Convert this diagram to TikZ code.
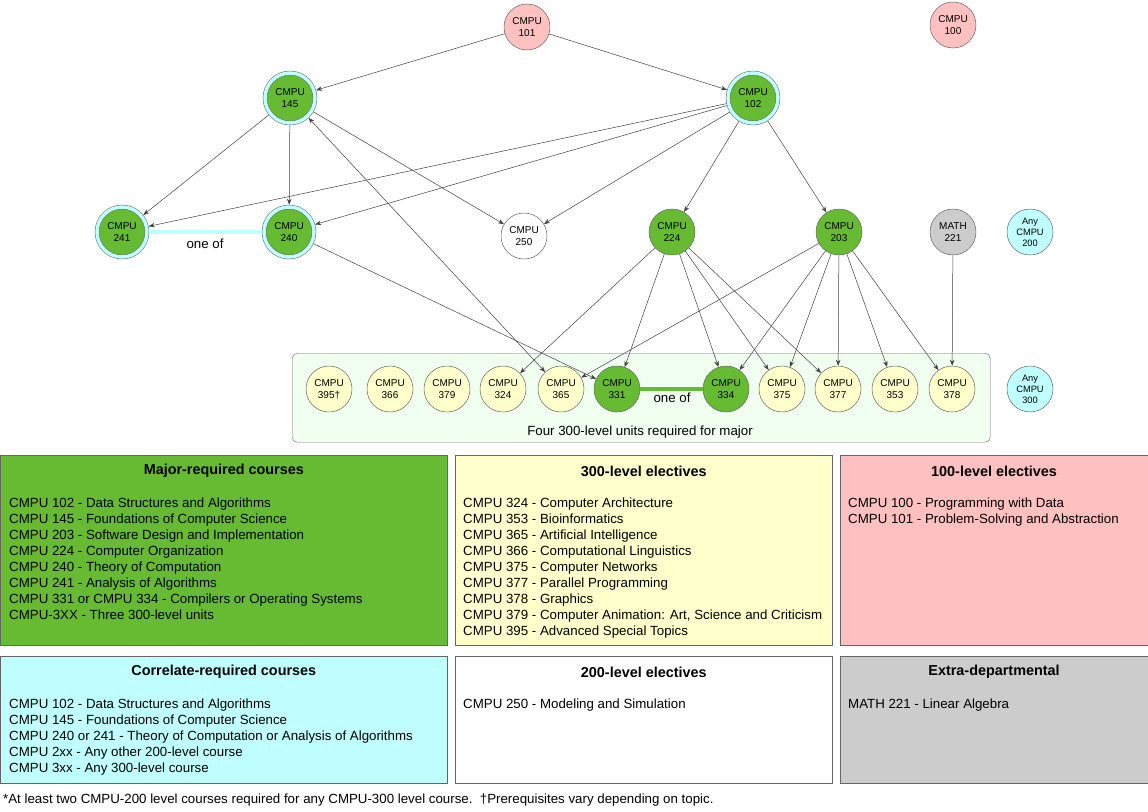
\documentclass[tikz,border=0pt]{standalone}
\usepackage{fontspec}
\setmainfont{Liberation Sans}
\usetikzlibrary{arrows.meta}

\definecolor{majorgreen}{RGB}{102,187,51}
\definecolor{ringcyan}{RGB}{191,255,255}
\definecolor{lowpink}{RGB}{255,192,192}
\definecolor{electyellow}{RGB}{255,255,204}
\definecolor{extragrey}{RGB}{204,204,204}
\definecolor{groupfill}{RGB}{240,255,240}
\definecolor{edgegrey}{RGB}{64,64,64}

\begin{document}
\begin{tikzpicture}[
    x=1pt, y=-1pt,
    >={Stealth[length=6pt,width=4.5pt]},
    course/.style={circle, draw=black!60, line width=0.5pt, minimum size=46pt, inner sep=0pt, align=center, font=\fontsize{10}{12.3}\selectfont},
    major/.style={course, fill=majorgreen},
    correlate/.style={major, minimum size=50pt, double=ringcyan, double distance=3.5pt, outer sep=2.25pt},
    intro/.style={course, fill=lowpink},
    elective/.style={course, fill=electyellow},
    extra/.style={course, fill=extragrey},
    anycourse/.style={course, fill=ringcyan, font=\fontsize{9.3}{11}\selectfont},
    plain/.style={course, fill=white},
    arrow/.style={->, draw=edgegrey, line width=0.5pt},
    oneof/.style={line width=3.5pt},
    panel/.style={rectangle, draw=black!60, line width=0.6pt, anchor=north west, inner sep=0pt},
    paneltitle/.style={font=\bfseries\fontsize{14.4}{16}\selectfont},
    panellist/.style={anchor=north west, inner sep=0pt, align=left, font=\fontsize{13.3}{15.9}\selectfont},
    note/.style={font=\fontsize{13.3}{15.9}\selectfont}
]
\useasboundingbox (0,0) rectangle (1148,811);

% 300-level group
\node[rectangle, rounded corners=5pt, draw=black!60, fill=groupfill, minimum width=698pt, minimum height=89pt, anchor=north west] (majorgroup) at (292,353) {};
\node[note] (grouplabel) at (640,432) {Four 300-level units required for major};

% 100 level
\node[intro] (c101) at (527,27) {CMPU\\101};
\node[intro] (c100) at (953,25) {CMPU\\100};

% Core
\node[correlate] (c145) at (290,98) {CMPU\\145};
\node[correlate] (c102) at (753,98) {CMPU\\102};

% 200 level
\node[correlate] (c241) at (122,232) {CMPU\\241};
\node[correlate] (c240) at (289,232) {CMPU\\240};
\node[plain] (c250) at (524,236) {CMPU\\250};
\node[major] (c224) at (672,232) {CMPU\\224};
\node[major] (c203) at (839,232) {CMPU\\203};
\node[extra] (m221) at (953,232) {MATH\\221};
\node[anycourse] (any200) at (1030,232) {Any\\CMPU\\200};

% 300 level
\node[elective] (c395) at (329,389) {CMPU\\395\textdagger};
\node[elective] (c366) at (390,389) {CMPU\\366};
\node[elective] (c379) at (447,389) {CMPU\\379};
\node[elective] (c324) at (503,389) {CMPU\\324};
\node[elective] (c365) at (561,389) {CMPU\\365};
\node[major] (c331) at (617,389) {CMPU\\331};
\node[major] (c334) at (726,389) {CMPU\\334};
\node[elective] (c375) at (782,389) {CMPU\\375};
\node[elective] (c377) at (838,389) {CMPU\\377};
\node[elective] (c353) at (895,389) {CMPU\\353};
\node[elective] (c378) at (952,389) {CMPU\\378};
\node[anycourse] (any300) at (1030,389) {Any\\CMPU\\300};

% One of
\draw[oneof, ringcyan] (c241) -- (c240);
\node[note] (oneof2) at (205,244) {one of};
\draw[oneof, majorgreen] (c331) -- (c334);
\node[note] (oneof3) at (672,398) {one of};

% Prerequisites
\draw[arrow] (c101) -- (c145);
\draw[arrow] (c101) -- (c102);

\draw[arrow] (c145) -- (c241);
\draw[arrow] (c145) -- (c240);
\draw[arrow] (c145) -- (c250);
\draw[arrow, <->] (c145) -- (c365);

\draw[arrow] (c102) -- (c241);
\draw[arrow] (c102) -- (c240);
\draw[arrow] (c102) -- (c250);
\draw[arrow] (c102) -- (c224);
\draw[arrow] (c102) -- (c203);

\draw[arrow] (c240) -- (c331);

\draw[arrow] (c224) -- (c324);
\draw[arrow] (c224) -- (c331);
\draw[arrow] (c224) -- (c334);
\draw[arrow] (c224) -- (c375);
\draw[arrow] (c224) -- (c377);

\draw[arrow] (c203) -- (c365);
\draw[arrow] (c203) -- (c334);
\draw[arrow] (c203) -- (c375);
\draw[arrow] (c203) -- (c377);
\draw[arrow] (c203) -- (c353);
\draw[arrow] (c203) -- (c378);

\draw[arrow] (m221) -- (c378);

% Legend panels
\node[panel, fill=majorgreen, minimum width=447pt, minimum height=190pt] (majorbox) at (0,455) {};
\node[paneltitle] (majortitle) at ([yshift=-16pt]majorbox.north) {Major-required courses};
\node[panellist] (majorlist) at ([xshift=9pt,yshift=-43pt]majorbox.north west) {CMPU 102 - Data Structures and Algorithms\\CMPU 145 - Foundations of Computer Science\\CMPU 203 - Software Design and Implementation\\CMPU 224 - Computer Organization\\CMPU 240 - Theory of Computation\\CMPU 241 - Analysis of Algorithms\\CMPU 331 or CMPU 334 - Compilers or Operating Systems\\CMPU-3XX - Three 300-level units};

\node[panel, fill=electyellow, minimum width=377pt, minimum height=190pt] (electbox) at (455,455) {};
\node[paneltitle] (electtitle) at ([yshift=-16pt]electbox.north) {300-level electives};
\node[panellist] (electlist) at ([xshift=8pt,yshift=-43pt]electbox.north west) {CMPU 324 - Computer Architecture\\CMPU 353 - Bioinformatics\\CMPU 365 - Artificial Intelligence\\CMPU 366 - Computational Linguistics\\CMPU 375 - Computer Networks\\CMPU 377 - Parallel Programming\\CMPU 378 - Graphics\\CMPU 379 - Computer Animation: Art, Science and Criticism\\CMPU 395 - Advanced Special Topics};

\node[panel, fill=lowpink, minimum width=307.5pt, minimum height=190pt] (introbox) at (840,455) {};
\node[paneltitle] (introtitle) at ([yshift=-16pt]introbox.north) {100-level electives};
\node[panellist] (introlist) at ([xshift=8pt,yshift=-43pt]introbox.north west) {CMPU 100 - Programming with Data\\CMPU 101 - Problem-Solving and Abstraction};

\node[panel, fill=ringcyan, minimum width=447pt, minimum height=127pt] (correlatebox) at (0,656) {};
\node[paneltitle] (correlatetitle) at ([yshift=-16pt]correlatebox.north) {Correlate-required courses};
\node[panellist] (correlatelist) at ([xshift=9pt,yshift=-43pt]correlatebox.north west) {CMPU 102 - Data Structures and Algorithms\\CMPU 145 - Foundations of Computer Science\\CMPU 240 or 241 - Theory of Computation or Analysis of Algorithms\\CMPU 2xx - Any other 200-level course\\CMPU 3xx - Any 300-level course};

\node[panel, fill=white, minimum width=377pt, minimum height=127pt] (twobox) at (455,656) {};
\node[paneltitle] (twotitle) at ([yshift=-16pt]twobox.north) {200-level electives};
\node[panellist] (twolist) at ([xshift=8pt,yshift=-43pt]twobox.north west) {CMPU 250 - Modeling and Simulation};

\node[panel, fill=extragrey, minimum width=307.5pt, minimum height=127pt] (extrabox) at (840,656) {};
\node[paneltitle] (extratitle) at ([yshift=-16pt]extrabox.north) {Extra-departmental};
\node[panellist] (extralist) at ([xshift=8pt,yshift=-43pt]extrabox.north west) {MATH 221 - Linear Algebra};

% Footnote
\node[note, anchor=west, inner sep=0pt] (footnote) at (3,800) {*At least two CMPU-200 level courses required for any CMPU-300 level course.\ \ \textdagger Prerequisites vary depending on topic.};

\end{tikzpicture}
\end{document}
